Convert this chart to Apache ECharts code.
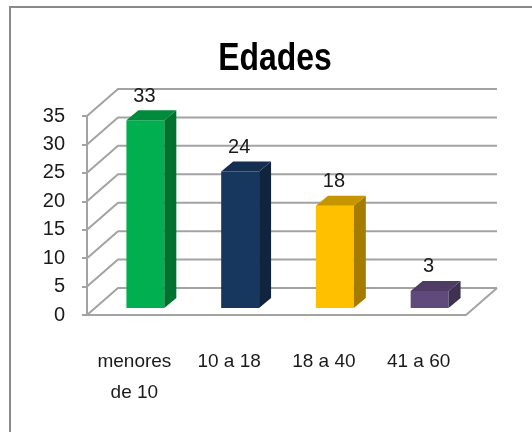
<!DOCTYPE html>
<html>
<head>
<meta charset="utf-8">
<script src="https://cdn.jsdelivr.net/npm/echarts@6/dist/echarts.min.js"></script>
<style>
  html, body { margin: 0; padding: 0; background: #fff; }
  #chart { width: 532px; height: 432px; }
</style>
</head>
<body>
<div id="chart"></div>
<script>
const categories = ["menores\nde 10", "10 a 18", "18 a 40", "41 a 60"]
const values = [33, 24, 18, 3]
const yTicks = [0, 5, 10, 15, 20, 25, 30, 35]

// colores de cada barra: frente, lado, tapa
const frontColors = ["#00b050", "#17375e", "#ffc000", "#604a7b"]
const sideColors = ["#00722f", "#10243e", "#a67c00", "#3f3151"]
const topColors = ["#008a3c", "#142f50", "#c69600", "#4e3c65"]

const FONT = '"Liberation Sans", Arial, sans-serif'
const GRID_COLOR = "#a3a3a3"
const WALL = [31, -27]      // profundidad de la pared del fondo
const BAR_SHIFT = [11, -7]  // desplazamiento de la cara frontal de la barra
const BAR_DEPTH = [12, -10]

const chart = echarts.init(document.getElementById("chart"))

const option = {
  animation: false,
  graphic: [
    {
      type: "rect",
      shape: { x: 10, y: 7, width: 700, height: 700 },
      style: { fill: "none", stroke: "#8a8a8a", lineWidth: 2 },
    },
    {
      // título, algo estrecho como Calibri
      type: "text",
      x: 275,
      y: 60,
      scaleX: 0.84,
      style: {
        text: "Edades",
        font: "bold 38px " + FONT,
        fill: "#000",
        align: "center",
        verticalAlign: "middle",
      },
    },
  ],
  grid: { left: 87, right: 66, top: 116, bottom: 117 },
  xAxis: {
    type: "category",
    data: categories,
    axisLine: { lineStyle: { color: GRID_COLOR, width: 2 } },
    axisTick: { length: 8, lineStyle: { color: GRID_COLOR, width: 2 } },
    axisLabel: { interval: 0, fontFamily: FONT, fontSize: 19, color: "#1a1a1a", lineHeight: 31, margin: 31 },
  },
  yAxis: {
    type: "value",
    min: 0,
    max: 35,
    interval: 5,
    axisLine: { show: true, lineStyle: { color: GRID_COLOR, width: 2 } },
    axisTick: { show: true, length: 5, lineStyle: { color: GRID_COLOR, width: 2 } },
    splitLine: { show: false },
    axisLabel: { fontFamily: FONT, fontSize: 20, color: "#1a1a1a", margin: 22 },
  },
  series: [
    {
      // pared del fondo y piso
      type: "custom",
      z: 1,
      clip: false,
      silent: true,
      data: yTicks.map(v => [0, v]),
      renderItem(params, api) {
        const cs = params.coordSys
        const y = api.coord([0, api.value(1)])[1]
        const x0 = cs.x
        const x1 = cs.x + cs.width
        const children = [
          {
            type: "polyline",
            shape: { points: [[x0, y], [x0 + WALL[0], y + WALL[1]], [x1 + WALL[0], y + WALL[1]]] },
            style: { stroke: GRID_COLOR, lineWidth: 2, fill: null },
          },
        ]
        if (api.value(1) === 0) {
          children.push({
            type: "line",
            shape: { x1: x1, y1: y, x2: x1 + WALL[0], y2: y + WALL[1] },
            style: { stroke: GRID_COLOR, lineWidth: 2 },
          })
        }
        return { type: "group", children }
      },
    },
    {
      type: "custom",
      z: 3,
      clip: false,
      data: values.map((v, i) => [i, v]),
      renderItem(params, api) {
        const i = api.value(0)
        const base = api.coord([i, 0])
        const top = api.coord([i, api.value(1)])
        const bw = api.size([1, 0])[0] * 0.4
        const x0 = base[0] - bw / 2 + BAR_SHIFT[0]
        const x1 = x0 + bw
        const yb = base[1] + BAR_SHIFT[1]
        const yt = top[1] + BAR_SHIFT[1]
        const dx = BAR_DEPTH[0], dy = BAR_DEPTH[1]
        return {
          type: "group",
          children: [
            {
              type: "polygon",
              shape: { points: [[x0, yb], [x1, yb], [x1, yt], [x0, yt]] },
              style: { fill: frontColors[i] },
            },
            {
              type: "polygon",
              shape: { points: [[x1, yb], [x1 + dx, yb + dy], [x1 + dx, yt + dy], [x1, yt]] },
              style: { fill: sideColors[i] },
            },
            {
              type: "polygon",
              shape: { points: [[x0, yt], [x0 + dx, yt + dy], [x1 + dx, yt + dy], [x1, yt]] },
              style: { fill: topColors[i] },
            },
            {
              type: "text",
              style: {
                x: (x0 + x1) / 2 - 1,
                y: yt - 24,
                text: String(api.value(1)),
                fill: "#1a1a1a",
                font: "20px " + FONT,
                align: "center",
                verticalAlign: "middle",
              },
            },
          ],
        }
      },
    },
  ],
}

chart.setOption(option)
</script>
</body>
</html>
